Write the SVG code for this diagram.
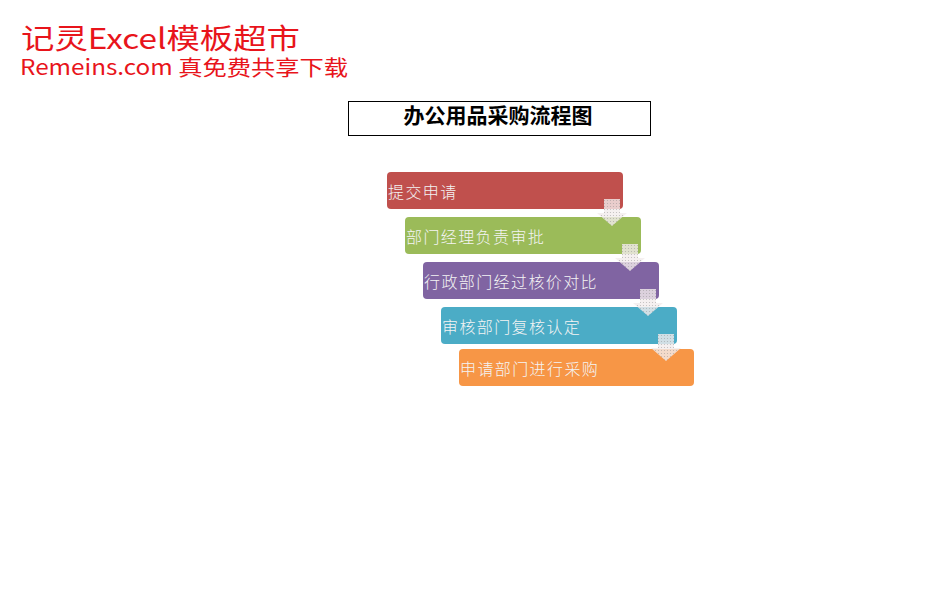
<svg xmlns="http://www.w3.org/2000/svg" width="928" height="595" viewBox="0 0 928 595">
<style>
.wm{font-family:"Noto Sans CJK SC","Noto Sans",sans-serif;fill:#E8141B}
.title{font-family:"Liberation Serif","Noto Sans CJK SC",serif;font-weight:bold;font-size:21px;fill:#000}
.lbl{font-family:"Noto Sans CJK SC",sans-serif;font-size:16px;letter-spacing:1.4px;fill:#F4F4F4;font-weight:300}
.arrow{fill:#F2ECEC;fill-opacity:0.8}
.dots{fill:url(#dot)}
</style>
<defs>
<pattern id="dot" width="3" height="3" patternUnits="userSpaceOnUse">
<circle cx="1.5" cy="1.5" r="0.6" fill="#888" fill-opacity="0.5"/>
</pattern>
<path id="arr" d="M-8,0 H8 V14 H15 L0,27 L-15,14 H-8 Z"/>
</defs>
<rect width="928" height="595" fill="#fff"/>
<g id="watermark">
<text class="wm" x="21" y="49" font-size="28" textLength="279" lengthAdjust="spacingAndGlyphs">记灵Excel模板超市</text>
<text class="wm" x="20" y="75" font-size="21" textLength="328" lengthAdjust="spacingAndGlyphs">Remeins.com 真免费共享下载</text>
</g>
<g id="title">
<rect x="348.5" y="101.5" width="302" height="34" fill="#fff" stroke="#000" stroke-width="1"/>
<text class="title" x="498" y="123" text-anchor="middle">办公用品采购流程图</text>
</g>
<g id="step1">
<rect x="387" y="172" width="236" height="37" rx="4" fill="#C0504D"/>
<text class="lbl" x="388" y="198">提交申请</text>
</g>
<g id="step2">
<rect x="405" y="217" width="236" height="37" rx="4" fill="#9BBB59"/>
<text class="lbl" x="406" y="243">部门经理负责审批</text>
</g>
<g id="step3">
<rect x="423" y="262" width="236" height="37" rx="4" fill="#8064A2"/>
<text class="lbl" x="424" y="288">行政部门经过核价对比</text>
</g>
<g id="step4">
<rect x="441" y="307" width="236" height="37" rx="4" fill="#4BACC6"/>
<text class="lbl" x="442" y="333">审核部门复核认定</text>
</g>
<g id="step5">
<rect x="459" y="349" width="235" height="37" rx="4" fill="#F79646"/>
<text class="lbl" x="460" y="375">申请部门进行采购</text>
</g>
<g id="connectors">
<g transform="translate(612,199)"><use href="#arr" class="arrow"/><use href="#arr" class="dots"/></g>
<g transform="translate(630,244)"><use href="#arr" class="arrow"/><use href="#arr" class="dots"/></g>
<g transform="translate(648,289)"><use href="#arr" class="arrow"/><use href="#arr" class="dots"/></g>
<g transform="translate(666,334)"><use href="#arr" class="arrow"/><use href="#arr" class="dots"/></g>
</g>
</svg>
